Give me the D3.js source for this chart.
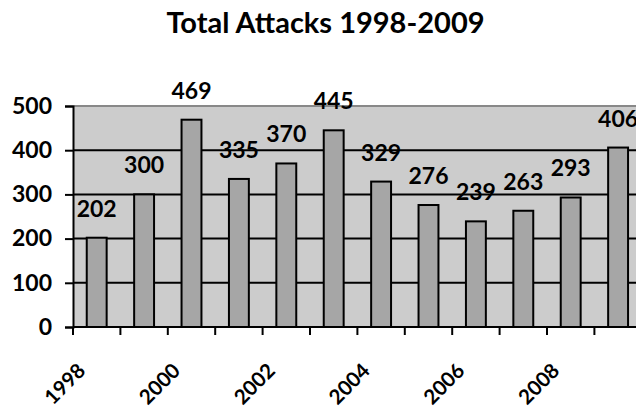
<!DOCTYPE html>
<html>
<head>
<meta charset="utf-8">
<script src="https://cdn.jsdelivr.net/npm/d3@7"></script>
<style>
  html, body { margin: 0; padding: 0; background: #fff; }
  svg { display: block; }
  text { font-family: Lato, "Open Sans", "Liberation Sans", sans-serif; font-weight: bold; fill: #000; }
</style>
</head>
<body>
<svg id="chart" width="636" height="407"></svg>
<script>
// Yearly attack totals
const years = ["1998", "1999", "2000", "2001", "2002", "2003", "2004", "2005", "2006", "2007", "2008", "2009"];
const attacks = [202, 300, 469, 335, 370, 445, 329, 276, 239, 263, 293, 406];
const yTicks = [0, 100, 200, 300, 400, 500];
const labelledYears = ["1998", "2000", "2002", "2004", "2006", "2008"];
const title = "Total Attacks 1998-2009";

(function () {
const svg = d3.select("#chart");
const plotLeft = 73, plotTop = 106, plotBottom = 327;
const step = 47.4;
const plotRight = plotLeft + step * years.length;

const x = d3.scaleBand().domain(years).range([plotLeft, plotRight])
  .paddingInner(0.58).paddingOuter(0.29);
const y = d3.scaleLinear().domain([0, 500]).range([plotBottom, plotTop]);

// title
svg.append("text")
  .attr("x", 325.5).attr("y", 33)
  .attr("text-anchor", "middle")
  .style("font-size", "29px")
  .text(title);

// plot area
svg.append("rect")
  .attr("x", plotLeft).attr("y", plotTop)
  .attr("width", plotRight - plotLeft).attr("height", plotBottom - plotTop)
  .attr("fill", "#cccccc");

// horizontal gridlines
svg.append("g").selectAll("line")
  .data(yTicks.filter(v => v > 0 && v < 500))
  .join("line")
  .attr("x1", plotLeft).attr("x2", plotRight)
  .attr("y1", d => y(d)).attr("y2", d => y(d))
  .attr("stroke", "#000").attr("stroke-width", 2);

// top border of plot area
svg.append("line")
  .attr("x1", plotLeft).attr("x2", plotRight)
  .attr("y1", y(500)).attr("y2", y(500))
  .attr("stroke", "#888").attr("stroke-width", 2);

// bars
svg.append("g").selectAll("rect")
  .data(years)
  .join("rect")
  .attr("x", d => x(d))
  .attr("width", x.bandwidth())
  .attr("y", (d, i) => y(attacks[i]))
  .attr("height", (d, i) => y(0) - y(attacks[i]))
  .attr("fill", "#a6a6a6")
  .attr("stroke", "#000").attr("stroke-width", 2);

// value labels
svg.append("g").selectAll("text")
  .data(years)
  .join("text")
  .attr("x", d => x(d) + x.bandwidth() / 2)
  .attr("y", (d, i) => y(attacks[i]) - 21)
  .attr("text-anchor", "middle")
  .style("font-size", "23px")
  .text((d, i) => attacks[i]);

// y axis
const yAxis = d3.axisLeft(y).tickValues(yTicks).tickSize(8).tickPadding(13);
const gy = svg.append("g").attr("transform", `translate(${plotLeft},0)`).call(yAxis);
gy.select(".domain").attr("stroke", "#000").attr("stroke-width", 2);
gy.selectAll(".tick line").attr("stroke", "#000").attr("stroke-width", 2);
gy.selectAll(".tick text")
  .style("font-size", "23px").style("font-family", "Lato, 'Open Sans', sans-serif")
  .attr("font-weight", "bold").attr("fill", "#000");

// x axis: ticks at category boundaries
const boundaries = d3.range(years.length + 1).map(i => plotLeft + i * step);
svg.append("line")
  .attr("x1", plotLeft).attr("x2", plotRight)
  .attr("y1", plotBottom).attr("y2", plotBottom)
  .attr("stroke", "#000").attr("stroke-width", 2);
svg.append("g").selectAll("line")
  .data(boundaries)
  .join("line")
  .attr("x1", d => d).attr("x2", d => d)
  .attr("y1", plotBottom).attr("y2", plotBottom + 8)
  .attr("stroke", "#000").attr("stroke-width", 2);

// rotated year labels
svg.append("g").selectAll("text")
  .data(labelledYears)
  .join("text")
  .attr("text-anchor", "end")
  .attr("transform", d => `translate(${x(d) + x.bandwidth() / 2 - 10},372) rotate(-45)`)
  .style("font-size", "20.5px")
  .text(d => d);
})();
</script>
</body>
</html>
